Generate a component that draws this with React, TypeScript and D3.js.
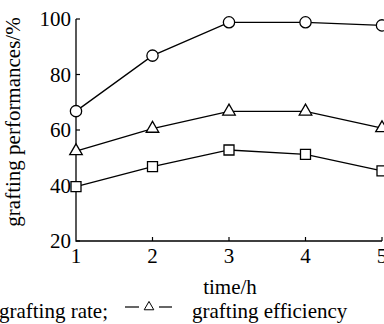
import React from 'react';
import * as d3 from 'd3';

// time in hours
const hours = [1, 2, 3, 4, 5];
const graftingRate = [66.8, 86.8, 98.8, 98.8, 97.7];       // circles
const graftingEfficiency = [52.4, 60.5, 66.7, 66.7, 60.7]; // triangles
const thirdSeries = [39.6, 46.8, 52.8, 51.2, 45.3];        // squares
const yTicks = [20, 40, 60, 80, 100];

const W = 384;
const H = 324;
const serif = { fontFamily: "'Liberation Serif'" };

export default function App() {
    const x = d3.scaleLinear().domain([1, 5]).range([76, 382]);
    const y = d3.scaleLinear().domain([20, 100]).range([241, 19]);

    const line = d3.line<number>()
        .x((_, i) => x(hours[i]))
        .y(d => y(d));

    const circle = d3.symbol(d3.symbolCircle, 100)();
    const square = d3.symbol(d3.symbolSquare, 100)();
    const triangle = d3.symbol(d3.symbolTriangle, 68)();
    const smallTriangle = d3.symbol(d3.symbolTriangle, 40)();

    const series = [
        { values: thirdSeries, shape: square },
        { values: graftingEfficiency, shape: triangle },
        { values: graftingRate, shape: circle },
    ];

    return (
        <svg width={W} height={H} style={{ position: 'absolute', left: 0, top: 0, background: '#fff' }}>
            {/* axes */}
            <path d={`M${x(1)},${y(100)}V${y(20)}H${x(5)}`} fill="none" stroke="#000" strokeWidth={1.3} />
            {yTicks.map(t => (
                <g key={t}>
                    <line x1={x(1)} x2={x(1) + 4} y1={y(t)} y2={y(t)} stroke="#000" strokeWidth={1.2} />
                    <text x={71} y={y(t) + 7} textAnchor="end" fontSize={21} style={serif}>{t}</text>
                </g>
            ))}
            {hours.map(h => (
                <g key={h}>
                    {h > 1 && <line x1={x(h)} x2={x(h)} y1={y(20)} y2={y(20) - 4} stroke="#000" strokeWidth={1.2} />}
                    <text x={x(h)} y={263} textAnchor="middle" fontSize={21} style={serif}>{h}</text>
                </g>
            ))}
            <text x={230} y={294} textAnchor="middle" fontSize={21} style={serif}>time/h</text>
            <text transform="translate(20,122) rotate(-90)" textAnchor="middle" fontSize={21} style={serif}>
                grafting performances/%
            </text>

            {/* lines and markers */}
            {series.map((s, k) => (
                <g key={k}>
                    <path d={line(s.values) ?? ''} fill="none" stroke="#000" strokeWidth={1.3} />
                    {s.values.map((v, i) => (
                        <path key={i} d={s.shape} transform={`translate(${x(hours[i])},${y(v)})`}
                            fill="#fff" stroke="#000" strokeWidth={1.3} />
                    ))}
                </g>
            ))}

            {/* legend */}
            <text x={108} y={318} textAnchor="end" fontSize={21} style={serif}>grafting rate;</text>
            <line x1={125} x2={139} y1={307} y2={307} stroke="#000" strokeWidth={1.2} />
            <path d={smallTriangle} transform="translate(149,307)" fill="#fff" stroke="#000" strokeWidth={1} />
            <line x1={159} x2={172} y1={307} y2={307} stroke="#000" strokeWidth={1.2} />
            <text x={192} y={318} fontSize={21} style={serif}>grafting efficiency</text>
        </svg>
    );
}
